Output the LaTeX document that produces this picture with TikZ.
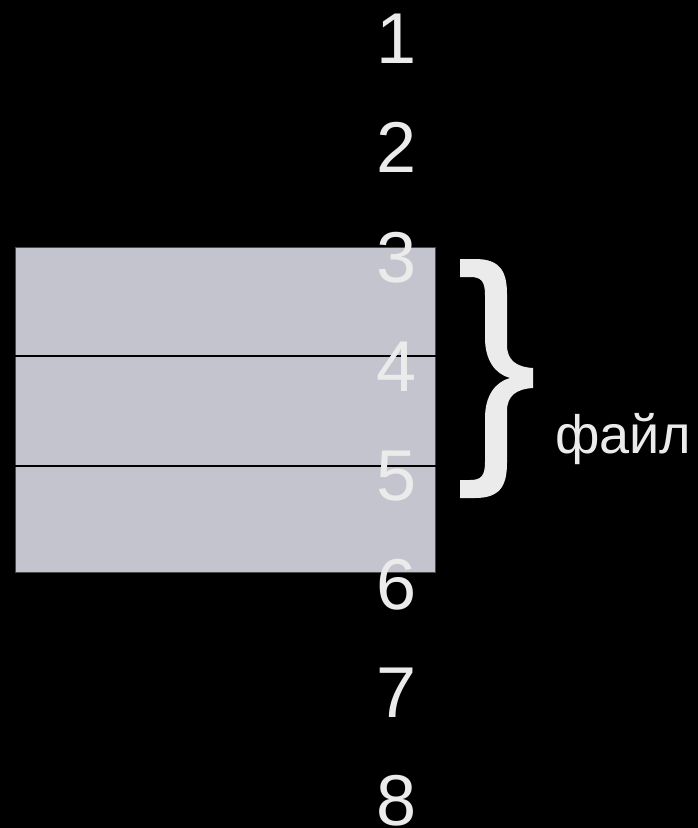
\documentclass[tikz,border=0pt]{standalone}
\usepackage{fontspec}
\setmainfont{Liberation Sans}
\definecolor{txt}{HTML}{EBEBEB}
\definecolor{cell}{HTML}{C4C4CE}
\definecolor{edge}{HTML}{4A4A4A}
\begin{document}
\begin{tikzpicture}[x=1pt,y=-1pt,
  num/.style={anchor=base,text=txt,inner sep=0pt,font=\fontsize{72}{72}\selectfont},
  cellbox/.style={fill=cell,draw=edge,line width=1pt},
  lbl/.style={anchor=base west,text=txt,inner sep=0pt,font=\fontsize{54}{54}\selectfont}]
\fill[black] (0,0) rectangle (698,828);
\useasboundingbox (0,0) rectangle (698,828);
\node[cellbox,minimum width=420pt,minimum height=108pt,inner sep=0pt,anchor=north west] (c1) at (15,247) {};
\node[cellbox,minimum width=420pt,minimum height=110pt,inner sep=0pt,anchor=north west] (c2) at (15,355) {};
\node[cellbox,minimum width=420pt,minimum height=107pt,inner sep=0pt,anchor=north west] (c3) at (15,465) {};
\draw[black,line width=1.5pt] (c1.south west) -- (c1.south east);
\draw[black,line width=1.5pt] (c2.south west) -- (c2.south east);
\node[num] (n1) at (397,63) {1};
\node[num] (n2) at (397,172) {2};
\node[num] (n3) at (397,282) {3};
\node[num] (n4) at (397,391) {4};
\node[num] (n5) at (397,500) {5};
\node[num] (n6) at (397,609) {6};
\node[num] (n7) at (397,717) {7};
\node[num] (n8) at (397,825) {8};
\fill[txt] (460,259) -- (475,259)
  .. controls (499,259) and (507,270) .. (507,294)
  -- (507,345)
  .. controls (507,360) and (516,367) .. (533,368)
  -- (533,388)
  .. controls (516,389) and (507,396) .. (507,411)
  -- (507,463)
  .. controls (507,487) and (499,498) .. (475,498)
  -- (460,498) -- (460,480) -- (470,480)
  .. controls (481,480) and (485,476) .. (485,462)
  -- (485,418)
  .. controls (485,396) and (495,382) .. (510,378)
  .. controls (495,374) and (485,360) .. (485,338)
  -- (485,295)
  .. controls (485,281) and (481,277) .. (470,277)
  -- (460,277) -- cycle;
\node[lbl] (f) at (555,453) {файл};
\end{tikzpicture}
\end{document}
